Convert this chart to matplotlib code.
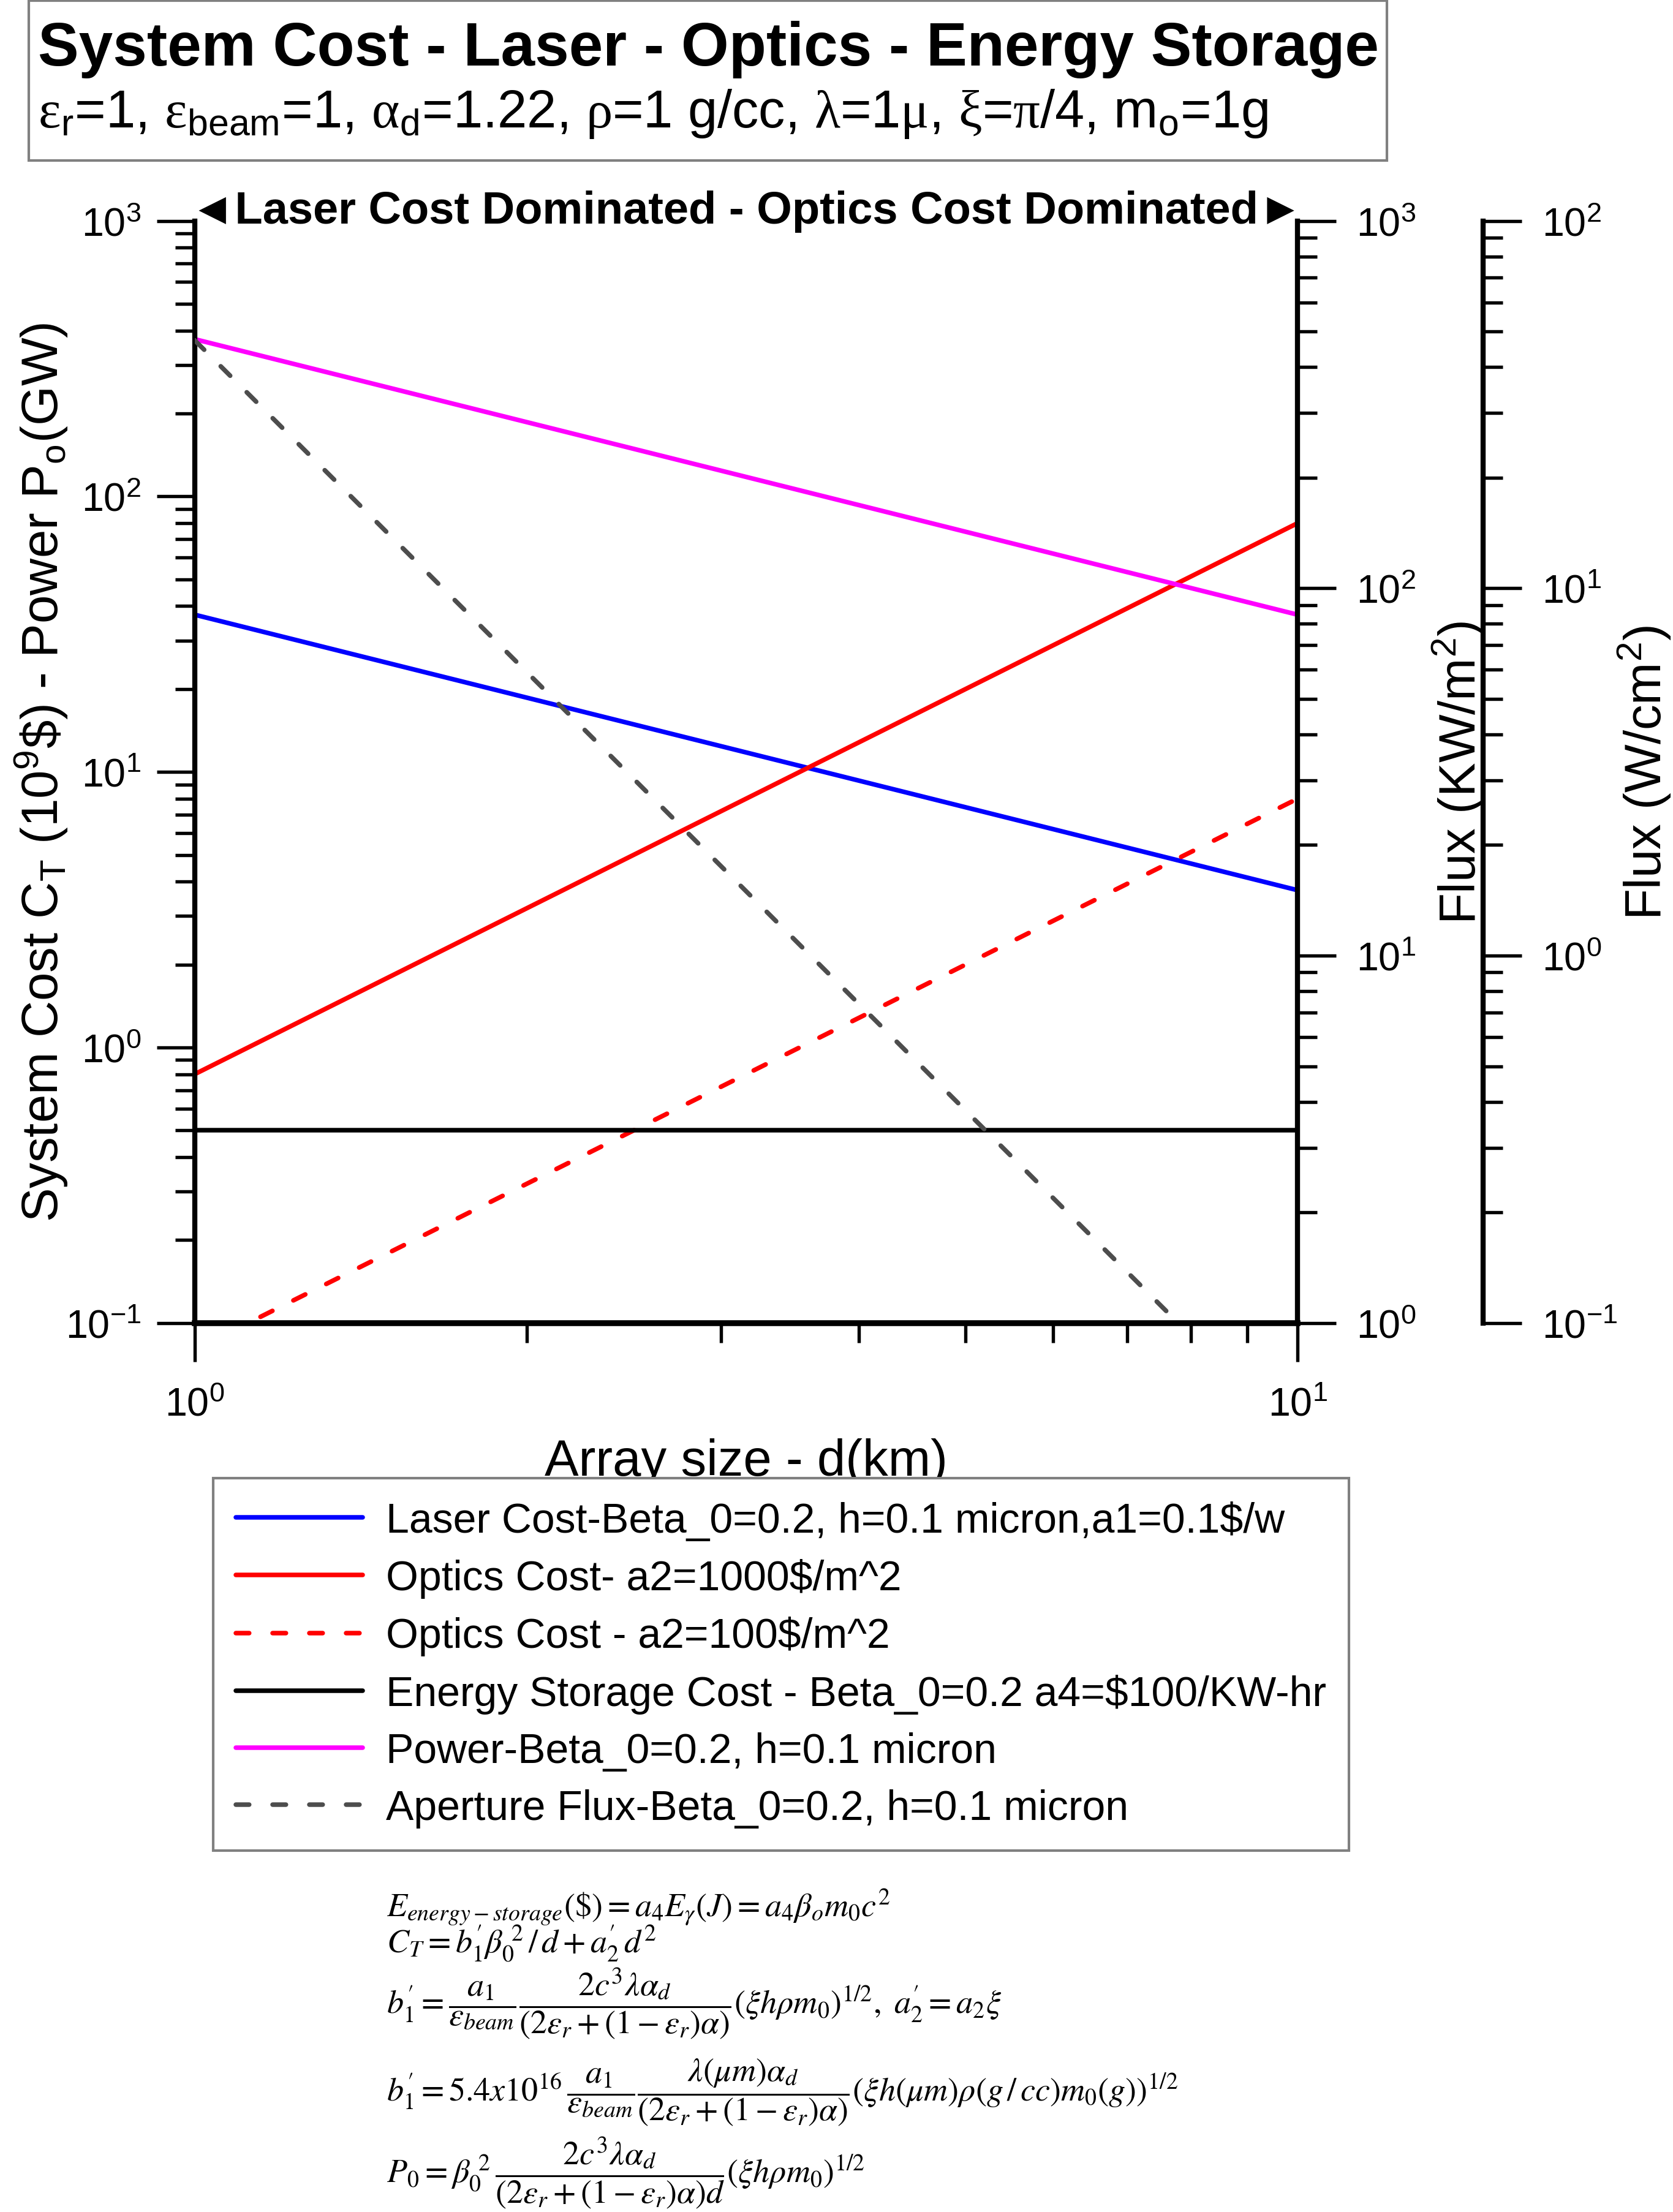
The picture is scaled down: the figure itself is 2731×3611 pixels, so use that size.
import matplotlib
matplotlib.use("Agg")
import matplotlib.pyplot as plt
from matplotlib.patches import Rectangle
from matplotlib.ticker import LogLocator, NullFormatter

plt.rcParams["font.family"] = ["Liberation Sans", "DejaVu Sans"]
plt.rcParams["mathtext.fontset"] = "custom"
plt.rcParams["mathtext.rm"] = "Liberation Sans"
plt.rcParams["mathtext.it"] = "Liberation Sans:italic"
plt.rcParams["mathtext.bf"] = "Liberation Sans:bold"
plt.rcParams["mathtext.sf"] = "Liberation Serif"

# values (straight lines on log-log, end points only)
d_km = [1, 10]
laser_cost = [37.2, 3.72]
optics_cost_1000 = [0.80, 80.0]
optics_cost_100 = [0.080, 8.0]
storage_cost = [0.50, 0.50]
power_gw = [372, 37.2]
flux_kw_m2 = [473, 0.473]

labels = [
    "Laser Cost-Beta_0=0.2, h=0.1 micron,a1=0.1$/w",
    "Optics Cost- a2=1000$/m^2",
    "Optics Cost - a2=100$/m^2",
    "Energy Storage Cost - Beta_0=0.2 a4=$100/KW-hr",
    "Power-Beta_0=0.2, h=0.1 micron",
    "Aperture Flux-Beta_0=0.2, h=0.1 micron",
]

LW = 1.8
DASH = (2.9, 5.1)
TICK_FS = 15.5
LABEL_FS = 20

fig = plt.figure(figsize=(2731 / 300, 3612 / 300), dpi=300)
ax = fig.add_axes([0.1164, 0.4018, 0.6593, 0.4981])
ax2 = ax.twinx()
ax3 = ax.twinx()

l1, = ax.plot(d_km, laser_cost, color="#0000ff", lw=LW, solid_capstyle="round")
l2, = ax.plot(d_km, optics_cost_1000, color="#ff0000", lw=LW, solid_capstyle="round")
l3, = ax.plot(d_km, optics_cost_100, color="#ff0000", lw=LW, dashes=DASH, dash_capstyle="round")
l4, = ax.plot(d_km, storage_cost, color="black", lw=LW, solid_capstyle="round")
l5, = ax.plot(d_km, power_gw, color="#ff00ff", lw=LW, solid_capstyle="round")
l6, = ax2.plot(d_km, flux_kw_m2, color="#4d4d4d", lw=LW, dashes=DASH, dash_capstyle="round")

for a in (ax, ax2, ax3):
    a.set_xscale("log")
    a.set_yscale("log")
    a.set_xlim(1, 10)
    a.yaxis.set_major_locator(LogLocator(base=10))
    a.yaxis.set_minor_locator(LogLocator(base=10, subs=range(2, 10)))
    a.yaxis.set_minor_formatter(NullFormatter())
    a.tick_params(which="major", direction="out", length=15, width=1.3, labelsize=TICK_FS)
    a.tick_params(which="minor", direction="out", length=7.7, width=1.3)

ax.set_ylim(0.1, 1000)
ax2.set_ylim(1, 1000)
ax3.set_ylim(0.1, 100)

ax.xaxis.set_minor_locator(LogLocator(base=10, subs=range(2, 10)))
ax.xaxis.set_minor_formatter(NullFormatter())
ax.tick_params(axis="x", which="major", pad=10)
ax.tick_params(axis="y", which="major", pad=6)
ax2.tick_params(axis="y", which="major", pad=8)
ax3.tick_params(axis="y", which="major", pad=8)

ax.spines["top"].set_visible(False)
ax.spines["right"].set_visible(False)
ax.spines["left"].set_linewidth(2.0)
ax.spines["bottom"].set_linewidth(2.3)
for a in (ax2, ax3):
    for s in ("left", "top", "bottom"):
        a.spines[s].set_visible(False)
    a.spines["right"].set_linewidth(2.0)
ax3.spines["right"].set_position(("axes", 1.1683))

ax.set_xlabel("Array size - d(km)", fontsize=LABEL_FS)
ax.xaxis.set_label_coords(0.5, -0.104)
ax.set_ylabel(r"System Cost C$_\mathregular{T}$ (10$^\mathregular{9}$\$) - Power P$_\mathregular{o}$(GW)",
              fontsize=LABEL_FS)
ax.yaxis.set_label_coords(-0.113, 0.5)
ax2.set_ylabel(r"Flux (KW/m$^\mathregular{2}$)", fontsize=LABEL_FS)
ax2.yaxis.set_label_coords(1.1206, 0.5)
ax3.set_ylabel(r"Flux (W/cm$^\mathregular{2}$)", fontsize=LABEL_FS)
ax3.yaxis.set_label_coords(1.289, 0.5)

ax.text(0.5, 1.009, "\u25c4Laser Cost Dominated - Optics Cost Dominated\u25ba",
        transform=ax.transAxes, ha="center", va="center", fontsize=17.8,
        fontweight="bold", family=["Liberation Sans", "DejaVu Sans"])

# title block
fig.patches.append(Rectangle((0.0172, 0.9272), 0.8118, 0.0722, transform=fig.transFigure,
                             fill=False, edgecolor="#808080", lw=1.0))
fig.text(0.0227, 0.9704, "System Cost - Laser - Optics - Energy Storage",
         fontsize=24, fontweight="bold", va="baseline", ha="left")
fig.text(0.0227, 0.9424,
         r"$\mathsf{\varepsilon}_\mathregular{r}$=1, $\mathsf{\varepsilon}_\mathregular{beam}$=1, "
         r"$\mathsf{\alpha}_\mathregular{d}$=1.22, $\mathsf{\rho}$=1 g/cc, $\mathsf{\lambda}$=1$\mathsf{\mu}$, "
         r"$\mathsf{\xi}$=$\mathsf{\pi}$/4, m$_\mathregular{o}$=1g",
         fontsize=20.8, va="baseline", ha="left")

leg = fig.legend([l1, l2, l3, l4, l5, l6], labels, loc="upper left",
                 bbox_to_anchor=(0.1273, 0.3318), bbox_transform=fig.transFigure,
                 borderaxespad=0, fontsize=16.3, handlelength=3.05, handletextpad=0.55,
                 borderpad=0.55, labelspacing=0.43, fancybox=False, framealpha=1,
                 edgecolor="#808080")
leg.get_frame().set_linewidth(1.0)

formulas = [
    (0.1378, r"$E_{energy-storage}(\$)=a_4E_\gamma(J)=a_4\beta_om_0c^2$"),
    (0.1216, r"$C_T=b^{\prime}_1\beta_0^{\ 2}\,/\,d+a^{\prime}_2\,d^2$"),
    (0.0944, r"$b^{\prime}_1=\dfrac{a_1}{\varepsilon_{beam}}\dfrac{2c^3\lambda\alpha_d}"
             r"{(2\varepsilon_r+(1-\varepsilon_r)\alpha)}\left(\xi h\rho m_0\right)^{1/2},\ a^{\prime}_2=a_2\xi$"),
    (0.0542, r"$b^{\prime}_1=5.4x10^{16}\,\dfrac{a_1}{\varepsilon_{beam}}\dfrac{\lambda(\mu m)\alpha_d}"
             r"{(2\varepsilon_r+(1-\varepsilon_r)\alpha)}\left(\xi h(\mu m)\rho(g\,/\,cc)m_0(g)\right)^{1/2}$"),
    (0.0179, r"$P_0=\beta_0^{\ 2}\,\dfrac{2c^3\lambda\alpha_d}{(2\varepsilon_r+(1-\varepsilon_r)\alpha)d}"
             r"\left(\xi h\rho m_0\right)^{1/2}$"),
]
for y, tex in formulas:
    fig.text(0.231, y, tex, fontsize=13, ha="left", va="center", math_fontfamily="stix")

fig.savefig("out.png", dpi=300)
